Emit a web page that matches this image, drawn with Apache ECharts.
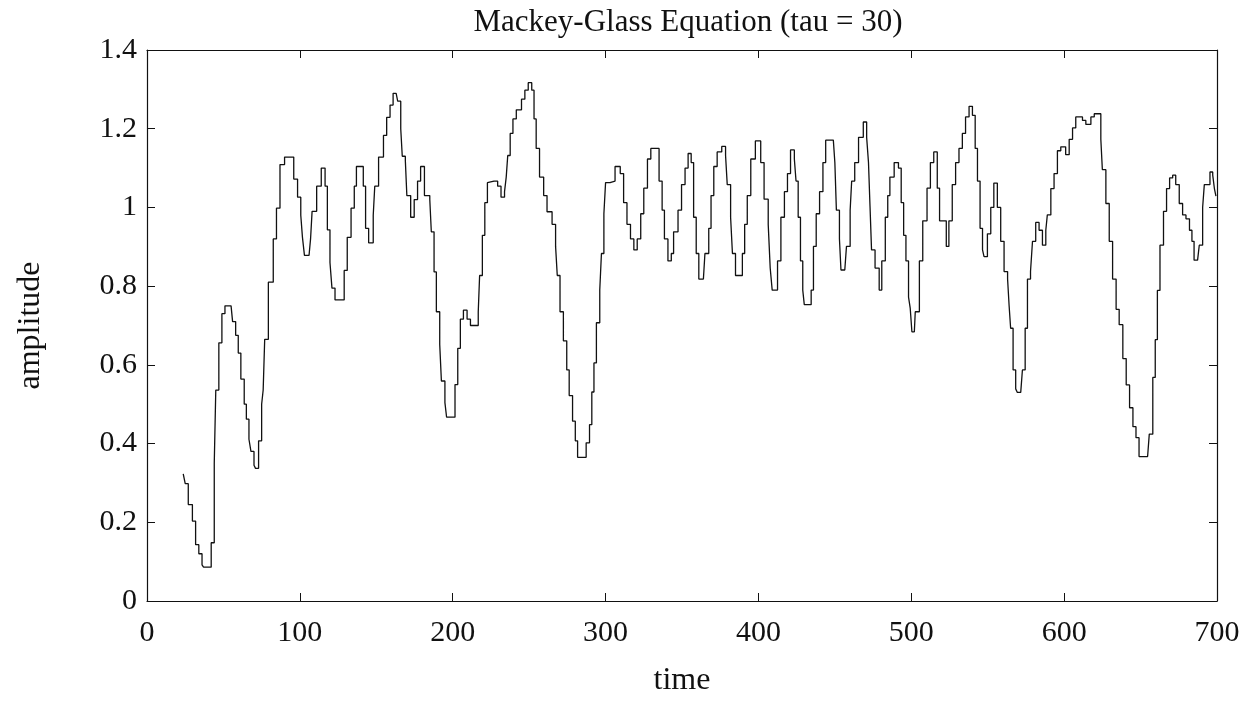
<!DOCTYPE html>
<html>
<head>
<meta charset="utf-8">
<script src="https://cdn.jsdelivr.net/npm/echarts@6/dist/echarts.min.js"></script>
<style>
html,body{margin:0;padding:0;background:#fff;}
#chart{width:1249px;height:702px;}
</style>
</head>
<body>
<div id="chart"></div>
<script>
var titleText = 'Mackey-Glass Equation (tau = 30)';
var xName = 'time';
var yName = 'amplitude';

var time = [
23.7,25,27,29.7,31.8,33.9,36,37,40,42,44,45,47,49,51,55,56,58,59.7,61.4,63.6,65,66.7,68,70,71,73,75,76,77,79.4,82.6,84.7,87,90,94,96,98.5,100.6,101.7,103,106,107,108,111,114,116.5,118,119.7,121,123,127,129,131,133.5,135.6,137,140,141.5,143,145,148,149,151.5,154.7,156.8,159,161,163,
164,166,167,169,170,172.5,174.8,177,179,181.5,185,186,187.8,189.3,191.5,192.6,194.9,196,199,201.5,203.3,205,207,209.4,211.6,215,216.7,217.6,219.4,221,222.7,224,227,229.4,231.6,233.9,235,236,237.6,239.4,241.6,245,247.2,249.4,251.7,253.2,254.6,256.8,259.5,261.7,265,267.3,268.4,270.2,272.4,274.6,276.2,278.4,280.2,281.7,285,287.3,289.5,291,292.4,294,296.2,297.3,298.9,300,302.9,306.2,309.6,311.8,314,316.3,318.5,320.7,323,325,327.4,329.6,333,335,337,338.5,340.8,343,344.5,347.4,349.7,352,354,356,357.6,359.3,361,364,365,
367.5,369,370.8,373,376,378.5,379.6,381.8,383,385,388,389.5,391,392.7,395,398,400,401.5,403.7,406.4,407.7,409,410.5,412.5,414.7,417,419,421,423.5,424.6,426,427.5,429,430,433,434.5,436,437.8,440,442.2,444,449,450,451,453,454,456.5,457.6,460,461,463,465.5,468.6,470.8,472,473,474,476.3,479,480.7,483,484.6,486,488.8,491.6,493.4,495,496.5,498.2,499.3,500.4,502,502.6,505.3,507.5,510.3,512.5,514.7,517,518.5,520.5,522.9,524.6,526.8,529,531.2,533.4,535.5,537.8,540,541.8,543.3,545,546.6,
547.6,549.8,552,554,556.3,558.5,560.7,563,564,565,566.6,568.3,569.4,571.6,572.7,574.5,576,578,579.3,581.4,583.6,585.8,588,589,591.3,593.4,595.6,597.8,601,603.3,605.5,607.6,609.8,612,614.2,617.5,619.7,622.5,624,625,627.3,629.5,631.7,634,636,638.4,640.6,642.8,645,647,649,654.6,655.7,658,659.6,661,662.7,665,667,669,671,673,675.3,677.5,679.7,682,683.6,685,687.3,688.4,690.6,691.7,694,695.4,697.2,698.3,699.3
];

var amplitude = [
0.323,0.298,0.245,0.203,0.143,0.12,0.092,0.086,0.086,0.148,0.35,0.536,0.656,0.73,0.75,0.75,0.71,0.675,0.63,0.564,0.50,0.462,0.411,0.38,0.345,0.337,0.407,0.50,0.536,0.665,0.81,0.92,0.998,1.109,1.128,1.128,1.072,1.026,0.98,0.924,0.878,0.878,0.92,0.99,1.054,1.10,1.054,0.943,0.86,0.795,0.765,0.765,0.84,0.924,0.998,1.054,1.104,1.104,1.054,0.947,0.91,0.98,1.054,1.128,1.183,1.229,1.26,1.29,1.29,
1.27,1.2,1.13,1.12,1.03,0.975,1.02,1.067,1.104,1.03,1.02,0.938,0.836,0.735,0.652,0.559,0.504,0.467,0.467,0.55,0.642,0.716,0.739,0.716,0.70,0.70,0.735,0.827,0.929,1.012,1.063,1.067,1.067,1.054,1.026,1.04,1.077,1.132,1.188,1.225,1.248,1.275,1.298,1.317,1.298,1.225,1.15,1.077,1.03,0.989,0.957,0.901,0.827,0.735,0.661,0.587,0.522,0.457,0.407,0.365,0.365,0.402,0.448,0.531,0.605,0.707,0.79,0.883,0.984,1.063,1.067,1.104,1.086,1.012,0.957,0.92,0.892,0.92,0.984,1.049,1.123,1.15,1.15,1.067,0.993,0.92,0.864,0.883,0.938,0.993,1.058,1.1,1.137,1.114,0.975,0.883,0.818,0.818,0.883,
0.947,1.03,1.104,1.141,1.155,1.132,1.058,0.975,0.883,0.827,0.827,0.883,0.957,1.03,1.123,1.169,1.169,1.114,1.021,0.957,0.846,0.79,0.79,0.864,0.975,1.04,1.086,1.146,1.123,1.067,0.975,0.864,0.79,0.753,0.753,0.79,0.901,0.984,1.04,1.114,1.171,1.171,1.114,0.993,0.92,0.841,0.841,0.901,0.993,1.067,1.114,1.178,1.217,1.178,1.114,1.003,0.892,0.846,0.79,0.864,0.975,1.03,1.077,1.114,1.1,1.012,0.929,0.864,0.772,0.744,0.684,0.684,0.735,0.864,0.966,1.049,1.114,1.141,1.049,0.966,0.966,0.901,0.966,1.058,1.114,1.15,1.188,1.23,1.257,1.234,1.15,1.067,0.947,0.892,
0.875,0.933,1.0,1.062,1.0,0.914,0.837,0.818,0.75,0.693,0.587,0.539,0.53,0.53,0.587,0.693,0.818,0.837,0.914,0.962,0.942,0.904,0.942,0.981,1.048,1.086,1.144,1.154,1.134,1.173,1.202,1.23,1.23,1.221,1.211,1.23,1.238,1.238,1.173,1.096,1.01,0.914,0.818,0.741,0.702,0.616,0.549,0.491,0.443,0.415,0.367,0.367,0.424,0.568,0.664,0.789,0.904,0.99,1.048,1.075,1.082,1.058,1.01,0.981,0.971,0.942,0.914,0.866,0.866,0.904,1.0,1.058,1.058,1.09,1.082,1.048,1.029
];

var xTicks = [0,100,200,300,400,500,600,700];
var yTicks = [0,0.2,0.4,0.6,0.8,1,1.2,1.4];

var FONT = "'Liberation Serif','Times New Roman',serif";
var series = time.map(function(t,i){ return [t, amplitude[i]]; });

var chart = echarts.init(document.getElementById('chart'), null, {renderer:'canvas'});
var axisLine = {show:true, onZero:false, lineStyle:{color:'#111', width:1.2}};
var tick = {show:true, inside:true, length:8, lineStyle:{color:'#111', width:1}};
chart.setOption({
  backgroundColor:'#fff',
  animation:false,
  title:{text:titleText, left:683, top:2, textAlign:'center',
    textStyle:{fontFamily:FONT, fontSize:31, fontWeight:'normal', color:'#111'}},
  grid:{left:147, right:32, top:50, bottom:93},
  xAxis:[
    {type:'value', min:xTicks[0], max:xTicks[xTicks.length-1], interval:100, position:'bottom',
     axisLine:axisLine, axisTick:tick, splitLine:{show:false},
     axisLabel:{fontFamily:FONT, fontSize:30, color:'#111', margin:17},
     name:xName, nameLocation:'middle', nameGap:64,
     nameTextStyle:{fontFamily:FONT, fontSize:32, color:'#111'}},
    {type:'value', min:xTicks[0], max:xTicks[xTicks.length-1], interval:100, position:'top',
     axisLine:axisLine, axisTick:tick, splitLine:{show:false}, axisLabel:{show:false}}
  ],
  yAxis:[
    {type:'value', min:yTicks[0], max:yTicks[yTicks.length-1], interval:0.2, position:'left',
     axisLine:axisLine, axisTick:tick, splitLine:{show:false},
     axisLabel:{fontFamily:FONT, fontSize:30, color:'#111', margin:10,
       formatter:function(v){ return String(Math.round(v*10)/10); }},
     name:yName, nameLocation:'middle', nameGap:100, nameRotate:90,
     nameTextStyle:{fontFamily:FONT, fontSize:32, color:'#111'}},
    {type:'value', min:yTicks[0], max:yTicks[yTicks.length-1], interval:0.2, position:'right',
     axisLine:axisLine, axisTick:tick, splitLine:{show:false}, axisLabel:{show:false}}
  ],
  series:[{
    type:'line', data:series, step:'end', showSymbol:false, symbol:'none',
    xAxisIndex:0, yAxisIndex:0,
    lineStyle:{color:'#111', width:1.3}
  }]
});
</script>
</body>
</html>
